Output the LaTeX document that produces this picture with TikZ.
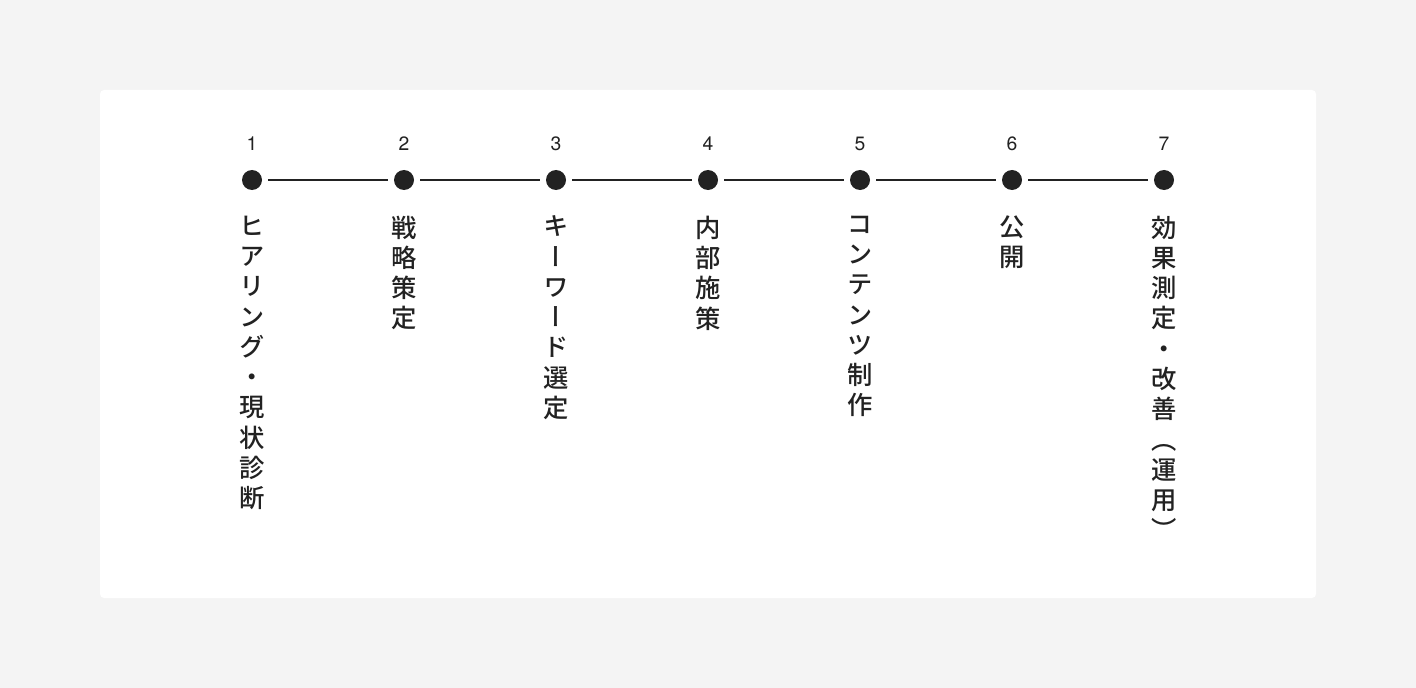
\documentclass[tikz,border=0pt]{standalone}
\usepackage{fontspec}
\setmainfont{TeX Gyre Heros}
\newfontfamily\jpfont[RawFeature=+vert, UprightFont={* Medium}]{Noto Sans CJK JP}
\usetikzlibrary{positioning}
\definecolor{bggray}{HTML}{F4F4F4}
\definecolor{ink}{HTML}{222222}
\tikzset{
	dot/.style={circle, fill=ink, minimum size=15pt, inner sep=0pt},
	num/.style={font=\fontsize{14.5}{15}\selectfont, text=ink, inner sep=0pt},
	vlabel/.style={font=\jpfont\fontsize{19}{22.7}\selectfont, text=ink, inner sep=0pt, align=center},
	link/.style={draw=ink, line width=1.1pt, shorten <=4.5pt, shorten >=4.5pt}
}

\begin{document}
\begin{tikzpicture}[x=0.75pt, y=-0.75pt]
% page + card
	\fill[bggray] (0,0) rectangle (1416,688);
	\useasboundingbox (0,0) rectangle (1416,688);
	\fill[white, rounded corners=3pt] (100,90) rectangle (1316,598);

% steps
	\node[dot] (d1) at (252,180) {};
	\node[dot] (d2) at (404,180) {};
	\node[dot] (d3) at (556,180) {};
	\node[dot] (d4) at (708,180) {};
	\node[dot] (d5) at (860,180) {};
	\node[dot] (d6) at (1012,180) {};
	\node[dot] (d7) at (1164,180) {};

% numbers
	\node[num, above=14pt of d1] (n1) {1};
	\node[num, above=14pt of d2] (n2) {2};
	\node[num, above=14pt of d3] (n3) {3};
	\node[num, above=14pt of d4] (n4) {4};
	\node[num, above=14pt of d5] (n5) {5};
	\node[num, above=14pt of d6] (n6) {6};
	\node[num, above=14pt of d7] (n7) {7};

% vertical labels
	\node[vlabel, below=19pt of d1] (t1) {ヒ\\ア\\リ\\ン\\グ\\・\\現\\状\\診\\断};
	\node[vlabel, below=19pt of d2] (t2) {戦\\略\\策\\定};
	\node[vlabel, below=19pt of d3] (t3) {キ\\ー\\ワ\\ー\\ド\\選\\定};
	\node[vlabel, below=19pt of d4] (t4) {内\\部\\施\\策};
	\node[vlabel, below=19pt of d5] (t5) {コ\\ン\\テ\\ン\\ツ\\制\\作};
	\node[vlabel, below=19pt of d6] (t6) {公\\開};
	\node[vlabel, below=19pt of d7] (t7) {効\\果\\測\\定\\・\\改\\善\\（\\運\\用\\）};

% timeline
	\draw[link] (d1) -- (d2);
	\draw[link] (d2) -- (d3);
	\draw[link] (d3) -- (d4);
	\draw[link] (d4) -- (d5);
	\draw[link] (d5) -- (d6);
	\draw[link] (d6) -- (d7);
\end{tikzpicture}
\end{document}
